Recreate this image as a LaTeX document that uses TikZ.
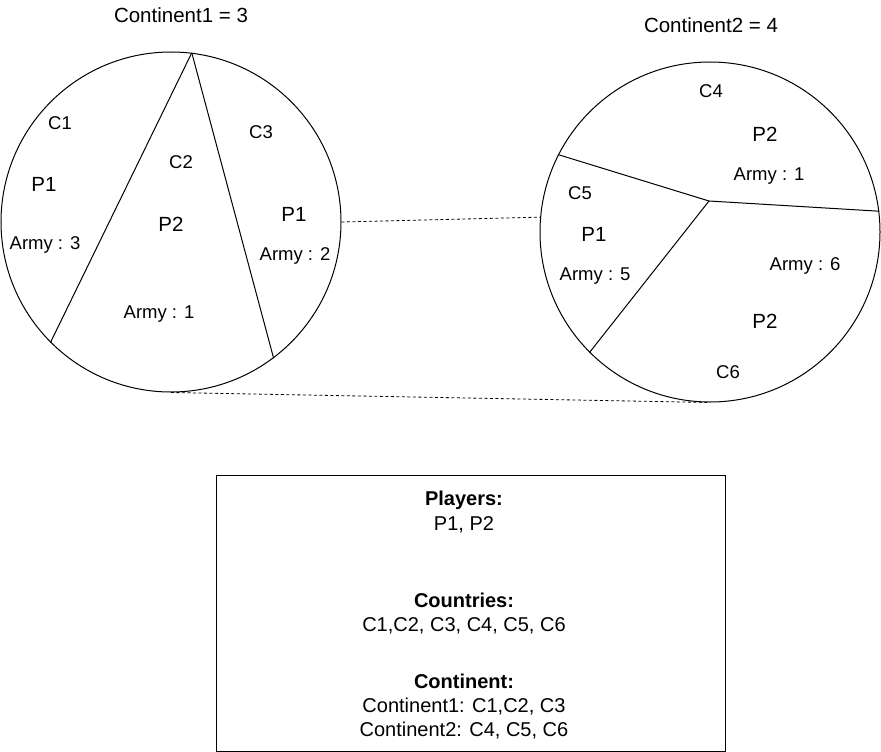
\documentclass[tikz,border=0pt]{standalone}
\usepackage{fontspec}
\setmainfont{Liberation Sans}
\begin{document}
\begin{tikzpicture}[x=1pt,y=-1pt,
  region/.style={circle,draw,line width=1pt,minimum size=340pt,inner sep=0pt},
  border/.style={line width=1pt},
  link/.style={line width=0.8pt,dash pattern=on 3pt off 2.5pt},
  ttl/.style={anchor=base,inner sep=0pt,font=\fontsize{20.5}{24}\selectfont},
  pl/.style={anchor=base,inner sep=0pt,font=\fontsize{20.5}{24}\selectfont},
  cn/.style={anchor=base,inner sep=0pt,font=\fontsize{18.5}{22}\selectfont},
  ar/.style={anchor=base,inner sep=0pt,font=\fontsize{18.5}{22}\selectfont},
  bx/.style={anchor=base,inner sep=0pt,font=\fontsize{20}{24}\selectfont},
  bxb/.style={bx,font=\fontsize{20}{24}\selectfont\bfseries}]
\useasboundingbox (0,0) rectangle (881,752);
% circles
\node[region] (c1) at (171,222) {};
\node[region] (c2) at (710,232) {};
% continent 1 borders
\draw[border] (c1.83) -- (c1.225);
\draw[border] (c1.83) -- (c1.307);
% continent 2 borders
\coordinate (hub) at (709,201);
\draw[border] (hub) -- (c2.153.7);
\draw[border] (hub) -- (c2.7.7);
\draw[border] (hub) -- (c2.225.2);
% dashed links
\draw[link] (c1.east) -- (c2.175);
\draw[link] (c1.south) -- (c2.south);
% titles
\node[ttl] (t1) at (181,23) {Continent1 = 3};
\node[ttl] (t2) at (711,33) {Continent2 = 4};
% continent 1 labels
\node[cn] (l1) at (60,129) {C1};
\node[pl] (p1) at (44,191) {P1};
\node[ar] (a1) at (45,249) {Army : 3};
\node[cn] (l2) at (181,168) {C2};
\node[pl] (p2) at (171,231) {P2};
\node[ar] (a2) at (159,318) {Army : 1};
\node[cn] (l3) at (261,138) {C3};
\node[pl] (p3) at (294,221) {P1};
\node[ar] (a3) at (295,260) {Army : 2};
% continent 2 labels
\node[cn] (l4) at (711,98) {C4};
\node[pl] (p4) at (765,141) {P2};
\node[ar] (a4) at (769,180) {Army : 1};
\node[cn] (l5) at (580,199) {C5};
\node[pl] (p5) at (594,241) {P1};
\node[ar] (a5) at (595,280) {Army : 5};
\node[ar] (a6) at (805,270) {Army : 6};
\node[pl] (p6) at (765,328) {P2};
\node[cn] (l6) at (728,378) {C6};
% legend box
\node[draw,line width=1pt,minimum width=509pt,minimum height=276pt,inner sep=0pt] (legend) at (470.5,613) {};
\node[bxb] (h1) at (464,505) {Players:};
\node[bx] (v1) at (464,530) {P1, P2};
\node[bxb] (h2) at (464,607.5) {Countries:};
\node[bx] (v2) at (464,631.5) {C1,C2, C3, C4, C5, C6};
\node[bxb] (h3) at (464,688) {Continent:};
\node[bx] (v3) at (464,712) {Continent1: C1,C2, C3};
\node[bx] (v4) at (464,736.5) {Continent2: C4, C5, C6};
\end{tikzpicture}
\end{document}
